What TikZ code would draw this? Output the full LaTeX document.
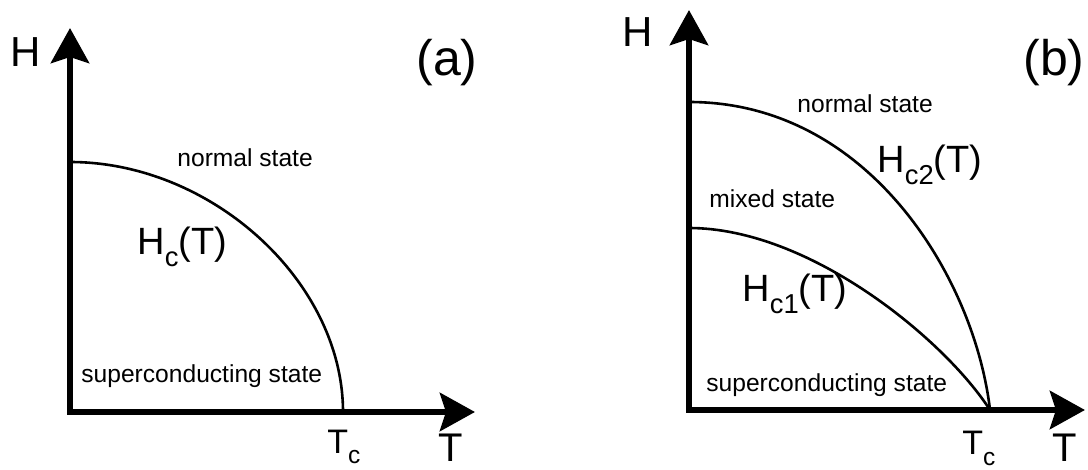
\documentclass[tikz,border=0pt]{standalone}
\usepackage{fontspec}
\setmainfont{Liberation Sans}
\usetikzlibrary{arrows.meta}
\newcommand{\lowsub}[1]{\raisebox{-0.3em}{\scalebox{0.72}{#1}}}

\begin{document}
\begin{tikzpicture}[x=0.5pt, y=-0.5pt,
    axis/.style={line width=3.4pt, <->, line join=miter},
    border/.style={line width=1.3pt},
    region/.style={anchor=base west, inner sep=0pt, font=\fontsize{12.3}{15}\selectfont},
    field/.style={anchor=base west, inner sep=0pt, font=\fontsize{19}{22}\selectfont},
    tclbl/.style={anchor=base west, inner sep=0pt, font=\fontsize{17}{20}\selectfont},
    varlbl/.style={anchor=base west, inner sep=0pt, font=\fontsize{21}{25}\selectfont},
    panel/.style={anchor=base west, inner sep=0pt, font=\fontsize{25}{30}\selectfont},
    >={Stealth[length=17.5pt, width=19pt, inset=3pt]}]
  \useasboundingbox (0,0) rectangle (1088,470);

  % (a) type I
  \coordinate (ao) at (70,412);
  \coordinate (ah) at (70,28);
  \coordinate (at) at (475,412);
  \coordinate (ah0) at (70,162);
  \coordinate (atc) at (343,412);
  \draw[axis] (ah) -- (ao) -- (at);
  \draw[border] (ah0) .. controls (212,162) and (343,282) .. (atc);
  \node[varlbl] (ahl) at (10,67) {H};
  \node[panel] (apanel) at (416,76) {(a)};
  \node[region] (anorm) at (177,167) {normal state};
  \node[field] (ahc) at (137,255) {H\lowsub{c}(T)};
  \node[region] (asc) at (81,383) {superconducting state};
  \node[tclbl] (atcl) at (327,453) {T\lowsub{c}};
  \node[varlbl, font=\fontsize{20}{24}\selectfont] (atl) at (438,461) {T};

  % (b) type II
  \coordinate (bo) at (689,410);
  \coordinate (bh) at (689,10);
  \coordinate (bt) at (1085,410);
  \coordinate (bh2) at (689,102);
  \coordinate (bh1) at (689,228);
  \coordinate (btc) at (990,410);
  \draw[axis] (bh) -- (bo) -- (bt);
  \draw[border] (bh2) .. controls (870,102) and (975,280) .. (btc);
  \draw[border] (bh1) .. controls (810,228) and (945,340) .. (btc);
  \node[varlbl] (bhl) at (622,47) {H};
  \node[panel] (bpanel) at (1023,76) {(b)};
  \node[region] (bnorm) at (797,113) {normal state};
  \node[field] (bhc2) at (877,173) {H\lowsub{c2}(T)};
  \node[region] (bmix) at (709,208) {mixed state};
  \node[field] (bhc1) at (742,302) {H\lowsub{c1}(T)};
  \node[region] (bsc) at (706,392) {superconducting state};
  \node[tclbl] (btcl) at (962,455) {T\lowsub{c}};
  \node[varlbl, font=\fontsize{20}{24}\selectfont] (btl) at (1052,461) {T};
\end{tikzpicture}
\end{document}
